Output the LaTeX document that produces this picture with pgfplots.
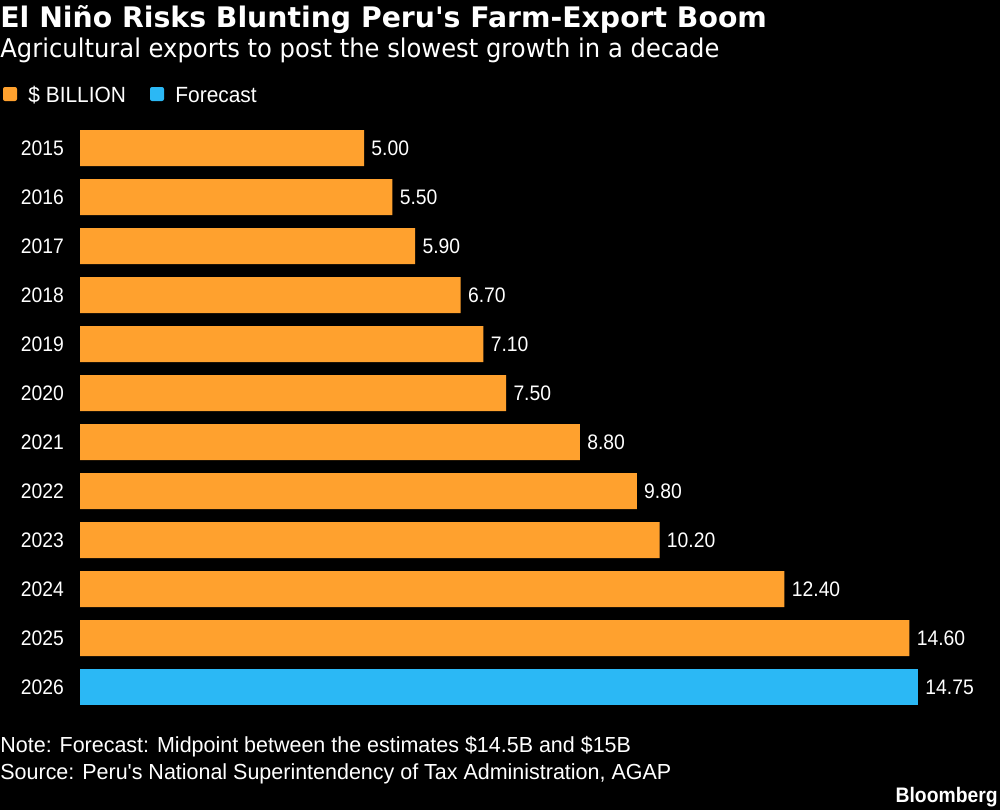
\documentclass[border=0pt]{standalone}
\usepackage{pgfplots}
\pgfplotsset{compat=1.18}
\usepackage{fontspec}
\setmainfont{Liberation Sans}
\newfontfamily\titlefont{DejaVu Sans}
\newfontfamily\subfont[FakeStretch=0.94]{DejaVu Sans}
\newfontfamily\condfont[FakeStretch=0.92]{Liberation Sans}
\newfontfamily\legfont[FakeStretch=0.95]{Liberation Sans}
\newfontfamily\notefont[FakeStretch=0.985]{Liberation Sans}
\definecolor{bborange}{HTML}{FFA12E}
\definecolor{bbblue}{HTML}{2BB8F5}
\begin{document}
\begin{tikzpicture}
\fill[black] (0,0) rectangle (500pt,-405pt);
% titles
\node[anchor=base west, inner sep=0, text=white, font=\titlefont\bfseries\fontsize{14.15pt}{16pt}\selectfont] at (0pt,-13.8pt) {El Niño Risks Blunting Peru's Farm-Export Boom};
\node[anchor=base west, inner sep=0, text=white, font=\subfont\fontsize{12.9pt}{15pt}\selectfont] at (0pt,-28.5pt) {Agricultural exports to post the slowest growth in a decade};
% legend
\fill[bborange, rounded corners=1pt] (1.5pt,-43.5pt) rectangle (8.5pt,-50.5pt);
\node[anchor=base west, inner sep=0, text=white, font=\legfont\fontsize{11pt}{13pt}\selectfont] at (14pt,-51pt) {\$ BILLION};
\fill[bbblue, rounded corners=1pt] (75pt,-43.5pt) rectangle (82pt,-50.5pt);
\node[anchor=base west, inner sep=0, text=white, font=\legfont\fontsize{11pt}{13pt}\selectfont] at (87.5pt,-51pt) {Forecast};
\begin{axis}[
  at={(40pt,-61.75pt)}, anchor=north west,
  scale only axis, width=419pt, height=294pt,
  xmin=0, xmax=14.75, ymin=-0.5, ymax=11.5,
  y dir=reverse,
  hide x axis,
  axis y line*=left,
  y axis line style={draw=none},
  major tick length=0pt,
  ytick={0,...,11},
  yticklabels={2015,2016,2017,2018,2019,2020,2021,2022,2023,2024,2025,2026},
  yticklabel style={text=white, font=\condfont\fontsize{10.5pt}{12pt}\selectfont, xshift=-4.5pt},
  xbar, bar width=18pt, bar shift=0pt,
  clip=false,
  nodes near coords={\pgfmathprintnumber[fixed,fixed zerofill,precision=2,assume math mode=true]{\pgfplotspointmeta}},
  nodes near coords style={text=white, anchor=west, inner sep=0pt, xshift=3.5pt, font=\condfont\fontsize{10.5pt}{12pt}\selectfont},
]
\addplot[fill=bborange, draw=none] coordinates {
(5.00,0) (5.50,1) (5.90,2) (6.70,3) (7.10,4) (7.50,5) (8.80,6) (9.80,7) (10.20,8) (12.40,9) (14.60,10)};
\addplot[fill=bbblue, draw=none] coordinates {(14.75,11)};
\end{axis}
% notes
\node[anchor=base west, inner sep=0, text=white, font=\notefont\fontsize{10.9pt}{12pt}\selectfont] at (0pt,-376pt) {Note: Forecast: Midpoint between the estimates \$14.5B and \$15B};
\node[anchor=base west, inner sep=0, text=white, font=\notefont\fontsize{10.9pt}{12pt}\selectfont] at (0pt,-389.5pt) {Source: Peru's National Superintendency of Tax Administration, AGAP};
\node[anchor=base east, inner sep=0, text=white, font=\condfont\bfseries\fontsize{10.5pt}{12pt}\selectfont] at (499pt,-401pt) {Bloomberg};
\end{tikzpicture}
\end{document}
